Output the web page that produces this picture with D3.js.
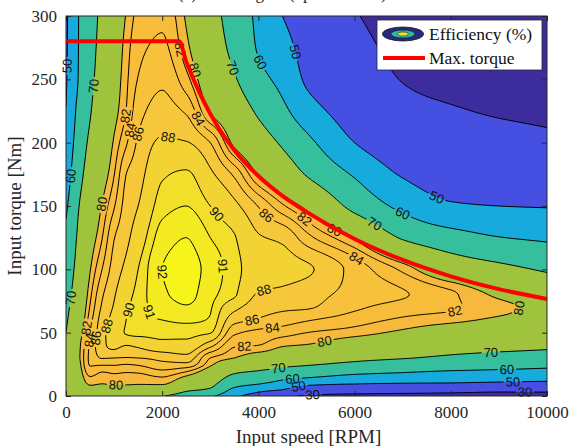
<!DOCTYPE html>
<html>
<head>
<meta charset="utf-8">
<script src="https://cdn.jsdelivr.net/npm/d3@7"></script>
<style>
  body { margin: 0; background: #fff; }
  text { font-family: "Liberation Serif", "Times New Roman", serif; }
</style>
</head>
<body>
<svg id="chart" width="570" height="446"></svg>
<script>
// ---- data --------------------------------------------------------------
// grid of speeds [RPM] and torques [Nm]
const speeds  = [0, 250, 500, 750, 1000, 1250, 1500, 2000, 2500, 3000, 3500, 4000, 4500, 5000, 6000, 7000, 8000, 9000, 10000];
const torques = [0, 5, 10, 15, 20, 25, 30, 40, 50, 60, 70, 80, 100, 125, 150, 175, 200, 225, 250, 275, 300];

// efficiency [%] for each speed, listed over the torques above
const eff0     = [72, 73, 73, 73, 73, 72.5, 72, 71, 70, 69, 68, 67, 65, 62, 58.5, 55, 52.5, 50.2, 49.2, 48.8, 48.5];
const eff250   = [75, 76, 77, 77.5, 78, 78.5, 79, 78.7, 77.5, 76, 75, 74, 72.5, 71, 69.3, 66.5, 64, 62, 60, 59.7, 59.6];
const eff500   = [77, 78.8, 80.5, 81.9, 83.3, 84.2, 84.5, 84.4, 83.9, 83.1, 82.2, 81.4, 79.8, 77.8, 75.7, 73.6, 71.5, 69.4, 68, 67, 66];
const eff750   = [76.5, 78.5, 80.1, 81.1, 82.3, 84.3, 86.1, 87.4, 87.3, 86.9, 86.3, 85.7, 84.0, 81.9, 80.2, 78, 76, 74.6, 73.3, 72.6, 72];
const eff1000  = [76.5, 78.5, 80.4, 81.5, 82.5, 84.3, 86, 88.6, 89.2, 88.7, 88.2, 87.8, 86.9, 85.9, 83.8, 81.9, 80.4, 78.8, 77.8, 77, 76];
const eff1250  = [76.5, 78.5, 80.4, 81.4, 82.3, 84, 85.9, 88, 90.1, 90.0, 89.7, 89.4, 88.5, 87.5, 86.8, 86, 83.7, 82, 81.5, 81, 80.2];
const eff1500  = [75.5, 78, 80.3, 81.3, 82.5, 84.3, 86, 88.4, 90.4, 90.8, 90.6, 90.4, 90.0, 89.0, 88.0, 87.2, 86.3, 85.2, 84.1, 83.4, 82.6];
const eff2000  = [70.5, 77, 80.5, 82, 83.8, 85.5, 86.5, 89.5, 90.4, 91.0, 91.4, 91.8, 92.0, 91.5, 90.6, 89.8, 88.3, 86.8, 85.6, 84.4, 83.6];
const eff2500  = [66, 71.5, 76.5, 79.5, 82.5, 85.5, 87.2, 89.5, 90.4, 91.2, 91.9, 92.3, 92.4, 92.0, 91.0, 90.2, 88.1, 85.7, 82.7, 80.7, 79.6];
const eff3000  = [61.5, 69, 72.4, 75.3, 78, 80.7, 82, 86.7, 90.1, 90.9, 91.1, 91.3, 91.6, 91.0, 90.0, 88.4, 86.0, 79.5, 76.5, 74.5, 73.2];
const eff3500  = [52, 58, 63.6, 67.9, 71.9, 76, 80, 82.3, 84.4, 86.7, 88.6, 90.2, 90.4, 90.1, 88.5, 85.6, 79.1, 75.3, 70.8, 67.7, 66];
const eff4000  = [45, 53.3, 60.8, 65.4, 70, 74.1, 77.6, 82, 83.4, 85.8, 86.9, 87.8, 89.2, 88.2, 85.9, 79.6, 74.4, 68.6, 62.8, 59.2, 58];
const eff4500  = [36, 50, 57.4, 62.3, 67.9, 72, 76.5, 80.3, 82.8, 85, 86.4, 87.4, 88.8, 87.6, 82.4, 75.3, 68.8, 62.1, 57.4, 53.8, 50];
const eff5000  = [28, 41, 53.8, 60.8, 65.8, 70.8, 73.3, 79.8, 82, 84.2, 86.2, 86.8, 88.3, 84.8, 79, 69.5, 62.5, 54.8, 48.6, 46, 43.6];
const eff6000  = [26, 38, 51, 57.8, 63, 68.5, 71.7, 77.1, 81, 82.9, 84.4, 85.3, 85.2, 79.5, 67.4, 59, 50, 44, 38, 34.5, 31];
const eff7000  = [26, 36, 50, 56.5, 61.5, 66.4, 70.4, 74.8, 79.3, 81.6, 83.1, 84.2, 81.5, 69.2, 57.6, 49.1, 42.3, 34.9, 29.5, 26.5, 24];
const eff8000  = [25, 35.5, 49.6, 55.5, 60, 65.5, 68.7, 73.4, 77.2, 80.7, 82.3, 82.4, 75.7, 64, 51.2, 44.2, 38.5, 31.4, 25.5, 23, 21];
const eff9000  = [24, 34, 48.3, 55, 59.2, 64, 67.3, 72.5, 76, 79.4, 80.8, 79.3, 72.3, 60.3, 50, 42.9, 35.9, 28.4, 22.5, 20.5, 19];
const eff10000 = [24, 34, 47.5, 54, 58.3, 62.5, 66.3, 71.6, 75.5, 78.4, 78.8, 76.5, 69, 58.6, 49.5, 41.5, 33.4, 26.5, 20.5, 18.5, 17];
const effBySpeed = [eff0, eff250, eff500, eff750, eff1000, eff1250, eff1500, eff2000, eff2500, eff3000,
                    eff3500, eff4000, eff4500, eff5000, eff6000, eff7000, eff8000, eff9000, eff10000];

// contour levels [%]
const levels = [30, 50, 60, 70, 80, 82, 84, 86, 88, 90, 91, 92];

// maximum torque envelope
const maxTorqueSpeed  = [0, 2350, 2500, 2800, 3000, 3500, 4000, 4500, 5000, 6000, 7000, 8000, 9000, 10000];
const maxTorqueValue  = [280, 280, 264, 237.5, 222.7, 194, 173.7, 158, 145.4, 124, 107.4, 94.5, 84.4, 76.6];

// contour labels: level and approximate location (speed, torque)
const labelLevel  = [50, 70, 60, 80, 70, 82, 84, 86, 88, 80, 90, 91, 92, 91, 90, 88, 88, 86, 84, 82, 80, 70, 60, 50, 30,
                     70, 60, 50, 30, 82, 80, 84, 80, 82, 86, 84, 80, 82, 82, 84, 86, 70, 60, 50, 30, 50, 60, 70];
const labelSpeed  = [60, 561, 83, 748, 125, 395, 499, 644, 977, 1060, 1331, 1600, 2017, 3139, 3139, 2120, 4096, 3867, 4304, 3721, 5343, 4407, 4698, 4823, 5135,
                     8857, 9168, 9293, 9543, 8087, 9584, 6008, 5551, 4969, 4200, 2786, 2723, 2370, 1268, 1372, 1497, 3451, 4033, 4615, 6466, 7672, 7006, 6362];
const labelTorque = [261, 245.5, 174.5, 152, 78, 54.5, 44.2, 45, 53.7, 7.1, 68, 65.5, 98, 102, 143, 207.6, 85, 60, 56.8, 41.8, 46.6, 22, 12.6, 6.3, 0,
                     30.8, 19, 11, 2.4, 66.3, 67, 105.8, 128.7, 140.5, 144.5, 220, 258, 274, 221, 209, 207, 258, 263, 270, 259, 154.7, 144.5, 132.6];

const xTicks = [0, 2000, 4000, 6000, 8000, 10000];
const yTicks = [0, 50, 100, 150, 200, 250, 300];

// ---- layout ------------------------------------------------------------
const svg = d3.select("#chart");
const plotL = 66, plotR = 547, plotT = 16, plotB = 396;
const x = d3.scaleLinear().domain([0, 10000]).range([plotL, plotR]);
const y = d3.scaleLinear().domain([0, 300]).range([plotB, plotT]);

const bandColors = ["#3d2c9e", "#4550e3", "#17abdd", "#36bf9d", "#9fc33d", "#f6b83d", "#f8bc3b",
                    "#f8c13b", "#f6c73a", "#f3d333", "#f1df2a", "#f3ea22", "#f6f41a"];

// ---- smooth field from the grid ----------------------------------------
function monotone(xs, ys) {
  const n = xs.length, d = [], m = new Array(n);
  for (let i = 0; i < n - 1; i++) d.push((ys[i + 1] - ys[i]) / (xs[i + 1] - xs[i]));
  m[0] = d[0]; m[n - 1] = d[n - 2];
  for (let i = 1; i < n - 1; i++) {
    if (d[i - 1] * d[i] <= 0) m[i] = 0;
    else {
      const h0 = xs[i] - xs[i - 1], h1 = xs[i + 1] - xs[i];
      const w1 = 2 * h1 + h0, w2 = h1 + 2 * h0;
      m[i] = (w1 + w2) / (w1 / d[i - 1] + w2 / d[i]);
    }
  }
  return v => {
    let i = d3.bisectRight(xs, v) - 1;
    i = Math.max(0, Math.min(n - 2, i));
    const h = xs[i + 1] - xs[i], t = (v - xs[i]) / h, t2 = t * t, t3 = t2 * t;
    return (2 * t3 - 3 * t2 + 1) * ys[i] + (t3 - 2 * t2 + t) * h * m[i] +
           (-2 * t3 + 3 * t2) * ys[i + 1] + (t3 - t2) * h * m[i + 1];
  };
}

const NX = 241, NY = 191;
const ds = 10000 / (NX - 1), dt = 300 / (NY - 1);
const fineS = d3.range(NX).map(i => i * ds);
const fineT = d3.range(NY).map(j => j * dt);
const rowVals = torques.map((t, r) => {
  const f = monotone(speeds, effBySpeed.map(col => col[r]));
  return fineS.map(f);
});
const grid = new Float64Array(NX * NY);
for (let i = 0; i < NX; i++) {
  const f = monotone(torques, rowVals.map(row => row[i]));
  for (let j = 0; j < NY; j++) grid[j * NX + i] = f(fineT[j]);
}
const contours = d3.contours().size([NX, NY]).thresholds(levels)(grid);

const toPx = (gx, gy) => [x((gx - 0.5) * ds), y((gy - 0.5) * dt)];
const path = d3.geoPath(d3.geoTransform({
  point(gx, gy) { const p = toPx(gx, gy); this.stream.point(p[0], p[1]); }
}));

// ---- drawing -----------------------------------------------------------
const defs = svg.append("defs");
defs.append("clipPath").attr("id", "plotClip")
  .append("rect").attr("x", plotL).attr("y", plotT).attr("width", plotR - plotL).attr("height", plotB - plotT);
const mask = defs.append("mask").attr("id", "labelGaps").attr("maskUnits", "userSpaceOnUse")
  .attr("x", 0).attr("y", 0).attr("width", 570).attr("height", 446);
mask.append("rect").attr("width", 570).attr("height", 446).attr("fill", "#fff");

const plot = svg.append("g").attr("clip-path", "url(#plotClip)");
plot.append("rect").attr("x", plotL).attr("y", plotT).attr("width", plotR - plotL).attr("height", plotB - plotT)
  .attr("fill", bandColors[0]);
plot.append("g").selectAll("path").data(contours).join("path")
  .attr("d", path).attr("fill", (d, i) => bandColors[i + 1]).attr("fill-rule", "evenodd");
plot.append("g").attr("mask", "url(#labelGaps)").selectAll("path").data(contours).join("path")
  .attr("d", path).attr("fill", "none").attr("stroke", "#000").attr("stroke-width", 1);

// contour labels, snapped onto their own contour line
const labelLayer = svg.append("g");
labelLevel.forEach((lv, k) => {
  const c = contours[levels.indexOf(lv)];
  const tx = x(labelSpeed[k]), ty = y(labelTorque[k]);
  let best = null, bd = Infinity;
  c.coordinates.forEach(poly => poly.forEach(ring => {
    const pts = ring.map(p => toPx(p[0], p[1]));
    pts.forEach((p, idx) => {
      if (p[0] < plotL + 1 || p[0] > plotR - 2 || p[1] < plotT + 2 || p[1] > plotB + 1) return;
      const dd = (p[0] - tx) ** 2 + (p[1] - ty) ** 2;
      if (dd < bd) { bd = dd; best = { pts, idx }; }
    });
  }));
  if (!best) return;
  const n = best.pts.length, p = best.pts[best.idx];
  const a = best.pts[(best.idx - 2 + n) % n], b = best.pts[(best.idx + 2) % n];
  let ang = Math.atan2(b[1] - a[1], b[0] - a[0]) * 180 / Math.PI;
  if (ang > 90) ang -= 180;
  if (ang <= -90) ang += 180;
  const t = labelLayer.append("text")
    .attr("transform", `translate(${p[0]},${p[1]}) rotate(${ang})`)
    .attr("text-anchor", "middle").attr("dy", "0.35em")
    .style("font-family", "'Liberation Sans', Arial, sans-serif").style("font-size", "13px")
    .attr("fill", "#111").text(lv);
  const w = t.node().getComputedTextLength() + 4;
  mask.append("rect").attr("x", -w / 2).attr("y", -6).attr("width", w).attr("height", 12)
    .attr("transform", `translate(${p[0]},${p[1]}) rotate(${ang})`).attr("fill", "#000");
});

// maximum torque curve
const line = d3.line().x((d, i) => x(maxTorqueSpeed[i])).y((d, i) => y(maxTorqueValue[i])).curve(d3.curveMonotoneX);
svg.append("path").datum(maxTorqueSpeed).attr("d", line).attr("fill", "none")
  .attr("stroke", "#ff0000").attr("stroke-width", 4).attr("clip-path", "url(#plotClip)");

// axes box with inward ticks on all sides
const axisColor = "#262626";
svg.append("g").attr("transform", `translate(0,${plotB})`)
  .call(d3.axisBottom(x).tickValues(xTicks).tickSizeInner(-5).tickSizeOuter(0).tickPadding(10).tickFormat(d3.format("d")))
  .call(g => g.select(".domain").remove())
  .call(g => g.selectAll("line").attr("stroke", axisColor))
  .call(g => g.selectAll("text").style("font-family", "'Liberation Serif', serif").style("font-size", "17px").attr("fill", "#262626"));
svg.append("g").attr("transform", `translate(0,${plotT})`)
  .call(d3.axisTop(x).tickValues(xTicks).tickSizeInner(-5).tickSizeOuter(0).tickFormat(""))
  .call(g => g.select(".domain").remove())
  .call(g => g.selectAll("line").attr("stroke", axisColor));
svg.append("g").attr("transform", `translate(${plotL},0)`)
  .call(d3.axisLeft(y).tickValues(yTicks).tickSizeInner(-5).tickSizeOuter(0).tickPadding(9))
  .call(g => g.select(".domain").remove())
  .call(g => g.selectAll("line").attr("stroke", axisColor))
  .call(g => g.selectAll("text").style("font-family", "'Liberation Serif', serif").style("font-size", "17px").attr("fill", "#262626"));
svg.append("g").attr("transform", `translate(${plotR},0)`)
  .call(d3.axisRight(y).tickValues(yTicks).tickSizeInner(-5).tickSizeOuter(0).tickFormat(""))
  .call(g => g.select(".domain").remove())
  .call(g => g.selectAll("line").attr("stroke", axisColor));
svg.append("rect").attr("x", plotL).attr("y", plotT).attr("width", plotR - plotL).attr("height", plotB - plotT)
  .attr("fill", "none").attr("stroke", axisColor).attr("stroke-width", 1);

// axis titles
svg.append("text").attr("x", (plotL + plotR) / 2 + 2).attr("y", 443).attr("text-anchor", "middle")
  .style("font-size", "19px").attr("fill", "#262626").text("Input speed [RPM]");
svg.append("text").attr("transform", `translate(21,${(plotT + plotB) / 2}) rotate(-90)`).attr("text-anchor", "middle")
  .style("font-size", "19px").attr("fill", "#262626").text("Input torque [Nm]");

// panel title (sits above the visible area)
svg.append("text").attr("x", 178).attr("y", -1).style("font-size", "17px").attr("fill", "#262626")
  .text("(a) Lowest gear (upshift areas)");

// legend
const lg = svg.append("g");
lg.append("rect").attr("x", 377).attr("y", 20).attr("width", 165).attr("height", 50)
  .attr("fill", "#fff").attr("stroke", axisColor).attr("stroke-width", 0.8);
lg.append("ellipse").attr("cx", 403).attr("cy", 34).attr("rx", 20.5).attr("ry", 7)
  .attr("fill", "#27297f").attr("stroke", "#111").attr("stroke-width", 0.8);
lg.append("ellipse").attr("cx", 403).attr("cy", 34).attr("rx", 12).attr("ry", 4)
  .attr("fill", "#2fb7a8").attr("stroke", "#111").attr("stroke-width", 0.6);
lg.append("ellipse").attr("cx", 403).attr("cy", 34).attr("rx", 5.5).attr("ry", 2)
  .attr("fill", "#f2e51e").attr("stroke", "#111").attr("stroke-width", 0.5);
lg.append("text").attr("x", 429).attr("y", 40).style("font-size", "17.5px").attr("fill", "#111").text("Efficiency (%)");
lg.append("line").attr("x1", 383).attr("x2", 425).attr("y1", 58).attr("y2", 58)
  .attr("stroke", "#ff0000").attr("stroke-width", 4);
lg.append("text").attr("x", 429).attr("y", 64).style("font-size", "17.5px").attr("fill", "#111").text("Max. torque");
</script>
</body>
</html>
